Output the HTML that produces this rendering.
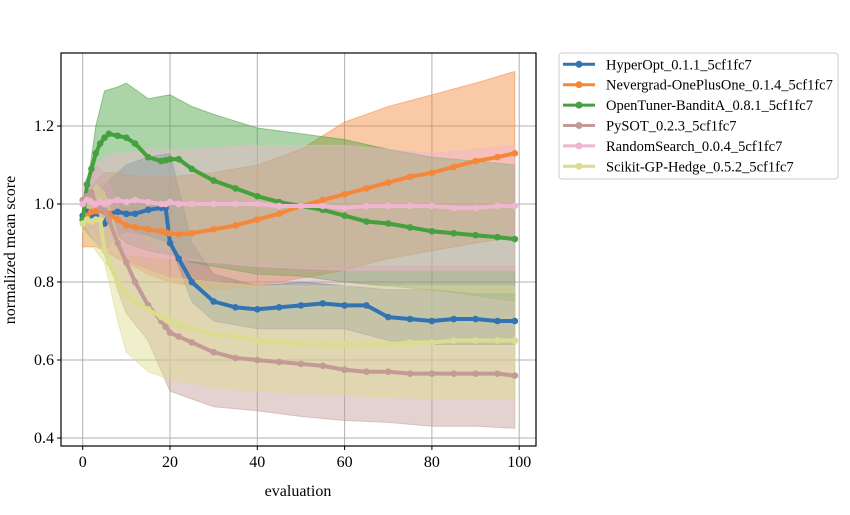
<!DOCTYPE html>
<html><head><meta charset="utf-8"><style>
body{margin:0;background:#fff;}
svg{font-family:"Liberation Serif",serif;}
</style></head><body>
<svg id="chart" width="850" height="510"></svg>
<script>
const xs=[0,1,2,3,4,5,6,8,10,12,15,18,19,20,22,25,30,35,40,45,50,55,60,65,70,75,80,85,90,95,99];
const hyperopt=[0.97,0.98,0.97,0.97,0.96,0.95,0.975,0.98,0.975,0.975,0.985,0.99,0.99,0.9,0.86,0.8,0.75,0.735,0.73,0.735,0.74,0.745,0.74,0.74,0.71,0.705,0.70,0.705,0.705,0.70,0.70];
const nevergrad=[0.96,0.97,0.98,0.982,0.985,0.98,0.975,0.96,0.945,0.94,0.935,0.93,0.927,0.925,0.922,0.925,0.935,0.945,0.96,0.975,0.995,1.01,1.025,1.04,1.055,1.07,1.08,1.095,1.11,1.12,1.13];
const opentuner=[0.96,1.05,1.09,1.13,1.155,1.17,1.18,1.175,1.17,1.155,1.12,1.11,1.112,1.115,1.115,1.09,1.06,1.04,1.02,1.005,0.995,0.985,0.97,0.955,0.95,0.94,0.93,0.925,0.92,0.915,0.91];
const pysot=[1.01,1.02,1.03,1.0,0.99,0.985,0.96,0.9,0.85,0.8,0.74,0.7,0.685,0.67,0.66,0.645,0.62,0.605,0.6,0.595,0.59,0.585,0.575,0.57,0.57,0.565,0.565,0.565,0.565,0.565,0.56];
const randomsearch=[1.0,1.01,1.005,1.0,1.005,1.0,1.005,1.01,1.005,1.01,1.005,1.0,1.0,1.005,1.0,1.0,1.0,1.0,1.0,0.995,0.995,0.995,0.99,0.995,0.995,0.995,0.995,0.99,0.99,0.995,0.995];
const scikit=[0.95,0.96,0.955,0.96,0.96,0.88,0.85,0.8,0.77,0.75,0.73,0.71,0.705,0.7,0.69,0.68,0.665,0.66,0.65,0.645,0.64,0.64,0.64,0.64,0.64,0.645,0.645,0.65,0.65,0.65,0.65];
const bx=[0,3,5,8,10,15,20,25,30,40,50,60,70,80,90,99];
const hyperoptHi=[1.0,1.03,1.05,1.08,1.1,1.12,1.13,0.9,0.82,0.79,0.8,0.79,0.78,0.78,0.77,0.77];
const hyperoptLo=[0.94,0.9,0.88,0.92,0.93,0.92,0.9,0.75,0.7,0.68,0.68,0.68,0.65,0.64,0.64,0.64];
const nevergradHi=[1.0,1.06,1.08,1.08,1.075,1.07,1.07,1.075,1.08,1.1,1.14,1.21,1.25,1.28,1.31,1.34];
const nevergradLo=[0.89,0.89,0.88,0.86,0.85,0.82,0.8,0.79,0.78,0.79,0.81,0.83,0.86,0.88,0.9,0.915];
const opentunerHi=[0.96,1.2,1.29,1.3,1.31,1.27,1.28,1.25,1.23,1.195,1.18,1.165,1.14,1.12,1.11,1.1];
const opentunerLo=[0.96,0.95,0.95,0.92,0.9,0.88,0.87,0.85,0.84,0.82,0.815,0.8,0.79,0.78,0.765,0.75];
const pysotHi=[1.0,1.1,1.08,1.0,0.95,0.9,0.88,0.86,0.85,0.84,0.84,0.84,0.84,0.84,0.84,0.84];
const pysotLo=[0.95,0.93,0.9,0.78,0.72,0.65,0.52,0.5,0.48,0.47,0.455,0.445,0.44,0.43,0.43,0.425];
const randomHi=[1.05,1.1,1.12,1.13,1.13,1.14,1.14,1.14,1.145,1.15,1.15,1.15,1.14,1.13,1.14,1.15];
const randomLo=[0.96,0.9,0.88,0.88,0.87,0.865,0.86,0.855,0.85,0.84,0.835,0.83,0.83,0.83,0.83,0.83];
const scikitHi=[0.97,1.05,1.03,0.92,0.85,0.83,0.81,0.805,0.8,0.79,0.79,0.79,0.79,0.79,0.79,0.79];
const scikitLo=[0.93,0.88,0.85,0.7,0.62,0.57,0.55,0.54,0.53,0.52,0.515,0.51,0.505,0.5,0.5,0.5];
const names=["HyperOpt_0.1.1_5cf1fc7","Nevergrad-OnePlusOne_0.1.4_5cf1fc7","OpenTuner-BanditA_0.8.1_5cf1fc7","PySOT_0.2.3_5cf1fc7","RandomSearch_0.0.4_5cf1fc7","Scikit-GP-Hedge_0.5.2_5cf1fc7"];
const xticks=[0,20,40,60,80,100];
const yticks=[0.4,0.6,0.8,1.0,1.2];

const colors=["#3274b2","#f5873a","#45a03e","#c39b96","#f0b5d0","#dcdc8e"];
const series=[hyperopt,nevergrad,opentuner,pysot,randomsearch,scikit];
const his=[hyperoptHi,nevergradHi,opentunerHi,pysotHi,randomHi,scikitHi];
const los=[hyperoptLo,nevergradLo,opentunerLo,pysotLo,randomLo,scikitLo];
const L=61,R=536,T=53,B=446;
const sx=v=>82.7+v*4.365;
const sy=v=>204-(v-1.0)*390;
const NS="http://www.w3.org/2000/svg";
const svg=document.getElementById('chart');
function mk(tag,attrs,parent){const e=document.createElementNS(NS,tag);for(const k in attrs)e.setAttribute(k,attrs[k]);(parent||svg).appendChild(e);return e;}
const clipDef=mk('defs',{});const cp=mk('clipPath',{id:'cp'},clipDef);mk('rect',{x:L,y:T,width:R-L,height:B-T},cp);
xticks.forEach(t=>{const g=mk('line',{x1:sx(t),x2:sx(t),y1:T,y2:B,stroke:'#b0b0b0','stroke-width':1});

});
yticks.forEach(t=>{const g=mk('line',{x1:L,x2:R,y1:sy(t),y2:sy(t),stroke:'#b0b0b0','stroke-width':1});

});
const plot=mk('g',{'clip-path':'url(#cp)'});
series.forEach((s,i)=>{
 let d='M'+bx.map((x,j)=>sx(x)+','+sy(his[i][j])).join('L');
 for(let j=bx.length-1;j>=0;j--)d+='L'+sx(bx[j])+','+sy(los[i][j]);
 const p=mk('path',{d:d+'Z',fill:colors[i],'fill-opacity':0.45,stroke:colors[i],'stroke-opacity':0.5},plot);
 
 
});
series.forEach((s,i)=>{
 const g=mk('g',{},plot);
 
 
 mk('path',{d:'M'+xs.map((x,j)=>sx(x)+','+sy(s[j])).join('L'),fill:'none',stroke:colors[i],'stroke-width':4,'stroke-linejoin':'round'},g);
 xs.forEach((x,j)=>{const c=mk('circle',{cx:sx(x),cy:sy(s[j]),r:3.3,fill:colors[i]},g);
 
 });
});
const fr=mk('rect',{x:L,y:T,width:R-L,height:B-T,fill:'none',stroke:'#000','stroke-width':1.2});


xticks.forEach(t=>{mk('line',{x1:sx(t),x2:sx(t),y1:B,y2:B+4,stroke:'#000'});
 const tx=mk('text',{x:sx(t),y:B+21,'text-anchor':'middle','font-size':16});tx.textContent=t;
 
 });
yticks.forEach(t=>{mk('line',{x1:L-4,x2:L,y1:sy(t),y2:sy(t),stroke:'#000'});
 const tx=mk('text',{x:L-7,y:sy(t)+5,'text-anchor':'end','font-size':16});tx.textContent=t.toFixed(1);
 
 });
const xt=mk('text',{x:298,y:496,'text-anchor':'middle','font-size':16});xt.textContent='evaluation';


const yt=mk('text',{x:0,y:0,'text-anchor':'middle','font-size':16,transform:'translate(15,250) rotate(-90)'});yt.textContent='normalized mean score';


const lg=mk('g',{});


mk('rect',{x:559,y:53,width:279,height:126,rx:3,fill:'#fff',stroke:'#ccc','stroke-width':1},lg);
names.forEach((n,i)=>{const y=64.3+i*20.4;
 const e=mk('g',{},lg);
 
 
 mk('line',{x1:563,x2:595,y1:y,y2:y,stroke:colors[i],'stroke-width':3},e);
 mk('circle',{cx:579,cy:y,r:3.5,fill:colors[i]},e);
 const t=mk('text',{x:606,y:y+5,'font-size':14.5},e);t.textContent=n;});
</script>
</body></html>
